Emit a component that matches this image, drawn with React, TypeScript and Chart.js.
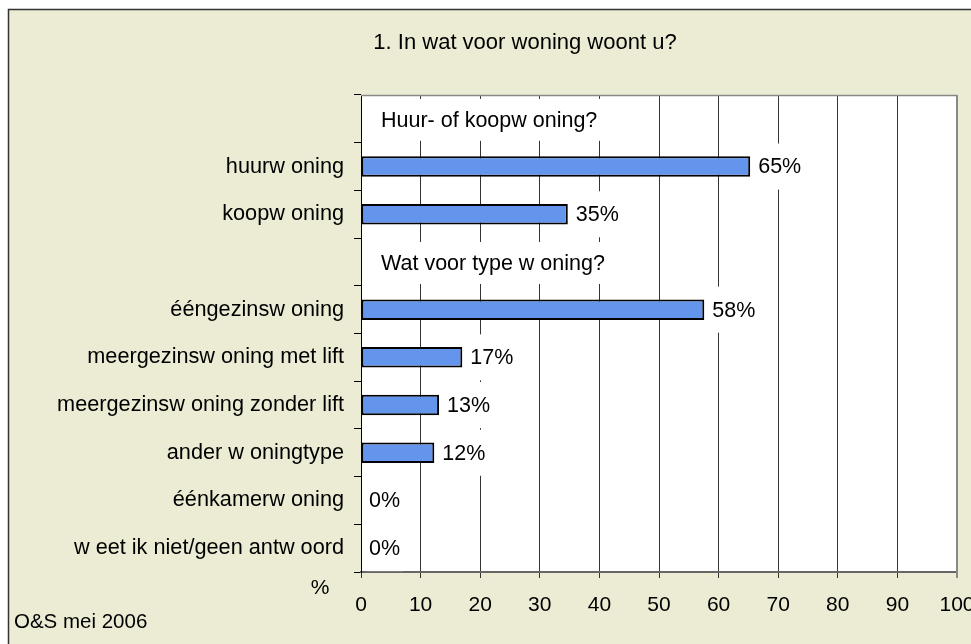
import React, { useEffect, useRef } from "react";
import { Chart, registerables } from "chart.js";

Chart.register(...registerables);

const chartTitle = "1. In wat voor woning woont u?";
const categories = [
  "",
  "huurw oning",
  "koopw oning",
  "",
  "ééngezinsw oning",
  "meergezinsw oning met lift",
  "meergezinsw oning zonder lift",
  "ander w oningtype",
  "éénkamerw oning",
  "w eet ik niet/geen antw oord",
];
const values: (number | null)[] = [null, 65.3, 34.7, null, 57.6, 17.0, 13.1, 12.3, 0, 0];
const sectionHeadings = [
  "Huur- of koopw oning?",
  "",
  "",
  "Wat voor type w oning?",
  "",
  "",
  "",
  "",
  "",
  "",
];
const xTicks = [0, 10, 20, 30, 40, 50, 60, 70, 80, 90, 100];
const axisUnit = "%";
const sourceNote = "O&S mei 2006";

const FONT = "'Liberation Sans', Arial, sans-serif";
const BG = "#ECECD4";

const decorPlugin = {
  id: "decor",
  beforeDraw(chart: any) {
    const { ctx, chartArea, width, height } = chart;
    ctx.save();
    ctx.fillStyle = "#ffffff";
    ctx.fillRect(0, 0, width, height);
    ctx.fillStyle = BG;
    ctx.fillRect(8, 9, width - 8, height - 9);
    ctx.strokeStyle = "#333333";
    ctx.lineWidth = 1.5;
    ctx.beginPath();
    ctx.moveTo(8.5, height + 2);
    ctx.lineTo(8.5, 9.5);
    ctx.lineTo(width + 2, 9.5);
    ctx.stroke();
    ctx.fillStyle = "#ffffff";
    ctx.fillRect(chartArea.left, chartArea.top, chartArea.right - chartArea.left, chartArea.bottom - chartArea.top);
    ctx.restore();
  },
  afterDatasetsDraw(chart: any) {
    const { ctx, chartArea } = chart;
    const meta = chart.getDatasetMeta(0);
    const yScale = chart.scales.y;
    ctx.save();
    ctx.font = `21.5px ${FONT}`;
    ctx.textBaseline = "middle";
    ctx.textAlign = "left";
    values.forEach((v, i) => {
      if (v === null || v === undefined) return;
      const el = meta.data[i];
      const text = `${Math.round(v)}%`;
      const tx = el.x + 8;
      const ty = el.y;
      const w = ctx.measureText(text).width;
      ctx.fillStyle = "#ffffff";
      ctx.fillRect(tx - 3, ty - 23, w + 6, 46);
      ctx.fillStyle = "#000000";
      ctx.fillText(text, tx, ty + 1);
    });
    sectionHeadings.forEach((h, i) => {
      if (!h) return;
      const ty = yScale.getPixelForValue(i);
      const tx = chartArea.left + 20;
      const w = ctx.measureText(h).width;
      ctx.fillStyle = "#ffffff";
      ctx.fillRect(tx - 3, ty - 20, w + 6, 42);
      ctx.fillStyle = "#000000";
      ctx.fillText(h, tx, ty + 2);
    });
    ctx.restore();
  },
  afterDraw(chart: any) {
    const { ctx, chartArea } = chart;
    ctx.save();
    ctx.strokeStyle = "#888888";
    ctx.lineWidth = 1.5;
    ctx.beginPath();
    ctx.moveTo(chartArea.left, chartArea.top + 0.5);
    ctx.lineTo(chartArea.right, chartArea.top + 0.5);
    ctx.stroke();
    ctx.lineWidth = 2;
    ctx.beginPath();
    ctx.moveTo(chartArea.right, chartArea.top);
    ctx.lineTo(chartArea.right, chartArea.bottom + 6);
    ctx.stroke();
    ctx.fillStyle = "#000000";
    ctx.textBaseline = "middle";
    ctx.textAlign = "center";
    ctx.font = `22px ${FONT}`;
    ctx.fillText(chartTitle, 525, 43);
    ctx.font = `21px ${FONT}`;
    ctx.fillText(axisUnit, 320, 588);
    ctx.textAlign = "left";
    ctx.font = `20.5px ${FONT}`;
    ctx.fillText(sourceNote, 14, 622);
    ctx.restore();
  },
};

export default function App() {
  const ref = useRef<HTMLCanvasElement | null>(null);
  useEffect(() => {
    if (!ref.current) return;
    const chart = new Chart(ref.current, {
      type: "bar",
      data: {
        labels: categories,
        datasets: [
          {
            data: values as any,
            backgroundColor: "#6495ED",
            borderColor: "#000000",
            borderWidth: 2,
            borderSkipped: false,
            categoryPercentage: 1,
            barPercentage: 0.43,
          },
        ],
      },
      options: {
        indexAxis: "y",
        animation: false,
        responsive: true,
        maintainAspectRatio: false,
        layout: { padding: { left: 0, top: 95, right: 14, bottom: 0 } },
        plugins: {
          legend: { display: false },
          tooltip: { enabled: false },
          title: { display: false },
        },
        scales: {
          x: {
            type: "linear",
            min: 0,
            max: 100,
            afterBuildTicks(scale: any) {
              scale.ticks = xTicks.map((v) => ({ value: v }));
            },
            afterFit(scale: any) {
              scale.height = 72;
              scale.paddingLeft = 0;
              scale.paddingRight = 0;
            },
            ticks: {
              color: "#000000",
              font: { family: FONT, size: 21 },
              padding: 15,
              maxRotation: 0,
              autoSkip: false,
            },
            grid: {
              color: "#333333",
              lineWidth: 1,
              tickLength: 6,
              drawOnChartArea: true,
            },
            border: { display: true, color: "#666666", width: 2 },
          },
          y: {
            type: "category",
            afterFit(scale: any) {
              scale.width = 361;
              scale.paddingTop = 0;
              scale.paddingBottom = 0;
            },
            ticks: {
              color: "#000000",
              font: { family: FONT, size: 21.7 },
              padding: 10,
              autoSkip: false,
            },
            grid: {
              display: true,
              drawOnChartArea: false,
              drawTicks: true,
              tickLength: 7,
              color: "#000000",
              offset: true,
            },
            border: { display: true, color: "#000000", width: 1 },
          },
        },
      },
      plugins: [decorPlugin],
    });
    return () => chart.destroy();
  }, []);
  return (
    <div style={{ position: "fixed", left: 0, top: 0, width: 971, height: 644 }}>
      <canvas ref={ref} />
    </div>
  );
}
